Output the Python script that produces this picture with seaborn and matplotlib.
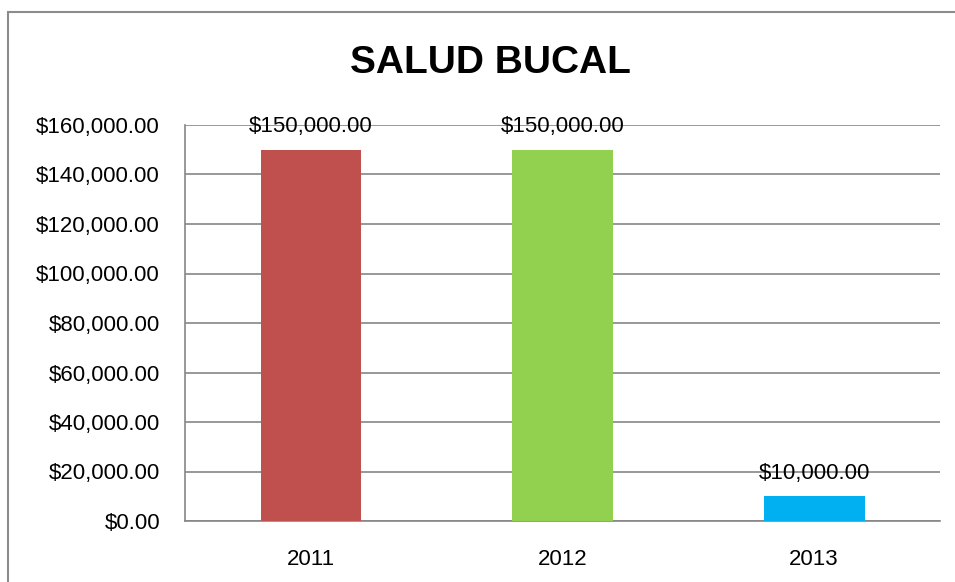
import matplotlib
matplotlib.use("Agg")
import matplotlib.pyplot as plt
import seaborn as sns
import pandas as pd
from matplotlib.patches import Rectangle
from matplotlib.ticker import FuncFormatter, MultipleLocator

years = ["2011", "2012", "2013"]
amounts = [150000, 150000, 10000]
bar_colors = ["#C0504D", "#92D050", "#00B0F0"]

sns.set_style("white")
plt.rcParams['font.family'] = ['Liberation Sans', 'DejaVu Sans']
plt.rcParams['text.color'] = 'black'
plt.rcParams['xtick.color'] = 'black'
plt.rcParams['ytick.color'] = 'black'

df = pd.DataFrame({"year": years, "amount": amounts})

fig = plt.figure(figsize=(9.55, 5.82), dpi=100)
ax = fig.add_axes([185 / 955, 1 - 521 / 582, 755 / 955, 396 / 582])

sns.barplot(
    data=df,
    x="year",
    y="amount",
    hue="year",
    palette=bar_colors,
    width=0.4,
    legend=False,
    saturation=1,
    edgecolor="none",
    linewidth=0,
    ax=ax,
    zorder=3
)

ax.set_ylim(0, 160000)
ax.set_xlim(-0.5, 2.5)
ax.yaxis.set_major_locator(MultipleLocator(20000))
ax.yaxis.set_major_formatter(FuncFormatter(lambda v, p: f"${v:,.2f}"))
ax.grid(axis="y", color="#868686", linewidth=1.2, zorder=0)
ax.set_axisbelow(True)

for s in ["top", "right"]:
    ax.spines[s].set_visible(False)
for s in ["left", "bottom"]:
    ax.spines[s].set_color("#868686")
    ax.spines[s].set_linewidth(1.2)

ax.set_xticks([0, 1, 2])
ax.set_xticklabels(years)
ax.set_xticks([-0.5, 0.5, 1.5, 2.5], minor=True)
ax.tick_params(axis="x", which="major", length=0, labelsize=16, pad=20, labelcolor="black")
ax.tick_params(axis="x", which="minor", length=6, width=1.2, color="#868686", direction="out")
ax.tick_params(axis="y", length=6, width=1.2, color="#868686", direction="out",
               labelsize=16, pad=12, labelcolor="black")
ax.set_xlabel("")
ax.set_ylabel("")

for i, v in enumerate(amounts):
    ax.annotate(f"${v:,.2f}", (i, v), xytext=(0, 9), textcoords="offset points",
                ha="center", va="bottom", fontsize=16, color="black", zorder=4)

fig.text(490 / 955, 1 - 63 / 582, "SALUD BUCAL", ha="center", va="center",
         fontsize=28, fontweight="bold", color="black")

fig.patches.append(Rectangle((8 / 955, -0.05), 1.2, 1 - 12 / 582 + 0.05,
                             transform=fig.transFigure, fill=False,
                             edgecolor="#8c8c8c", linewidth=1.5))

plt.savefig("out.png", dpi=100)
